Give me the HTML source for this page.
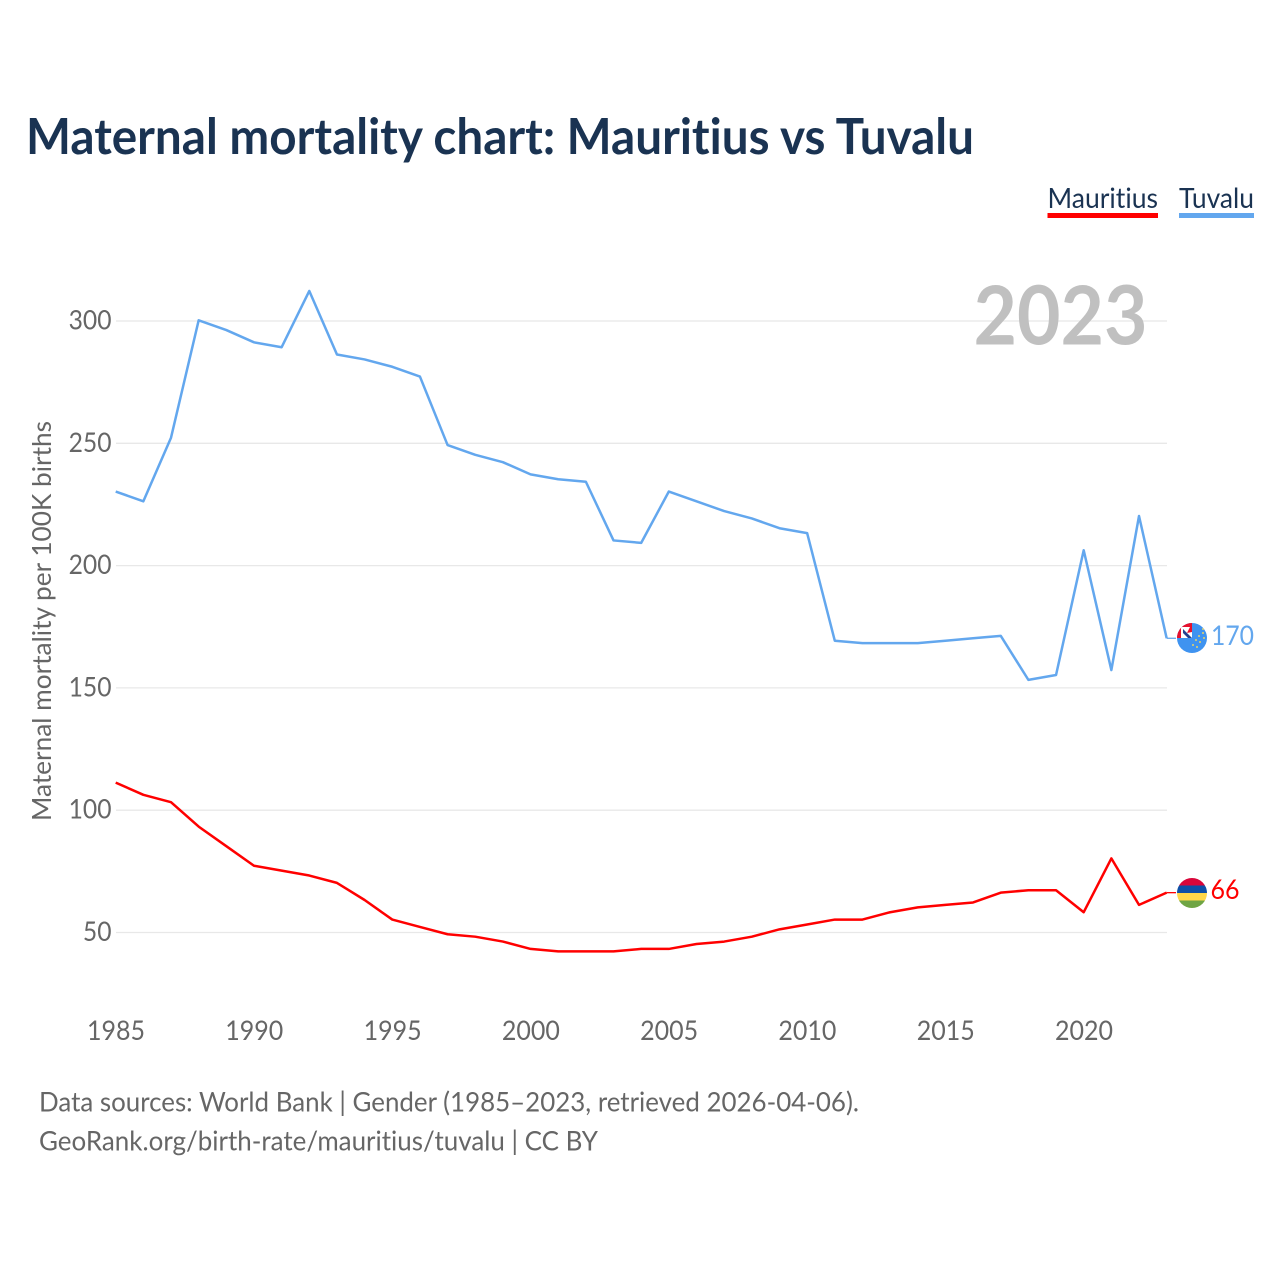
<!DOCTYPE html>
<html lang="en">
<head>
<meta charset="utf-8">
<title>Maternal mortality chart: Mauritius vs Tuvalu</title>
<style>
html,body{margin:0;padding:0;background:#fff;}
svg{display:block;}
text{font-family:"Lato","Carlito","Liberation Sans",sans-serif;font-variant-ligatures:none;font-feature-settings:"liga" 0,"clig" 0;}
</style>
</head>
<body>
<svg id="chart" xmlns="http://www.w3.org/2000/svg" width="1280" height="1280" viewBox="0 0 1280 1280">
  <defs>
    <clipPath id="clip-mu"><circle cx="1192" cy="893" r="15"/></clipPath>
    <clipPath id="clip-tv"><circle cx="1192" cy="638" r="15"/></clipPath>
  </defs>
  <rect width="1280" height="1280" fill="#fff"/>
  <text x="26" y="154" font-size="50" font-weight="700" fill="#1a3352" textLength="948" lengthAdjust="spacingAndGlyphs">Maternal mortality chart: Mauritius vs Tuvalu</text>

  <g id="grid"></g>

  <text x="973.5" y="344.5" font-size="81" font-weight="700" fill="#bdbdbd" fill-opacity="0.95" textLength="174" lengthAdjust="spacingAndGlyphs">2023</text>

  <text transform="translate(51 821) rotate(-90)" font-size="26" fill="#666" textLength="400" lengthAdjust="spacingAndGlyphs">Maternal mortality per 100K births</text>

  <g id="y-ticks"></g>
  <g id="x-ticks"></g>
  <g id="series"></g>

  <g>
    <text x="1047.5" y="208" font-size="28" fill="#1a3352" textLength="110.5" lengthAdjust="spacingAndGlyphs">Mauritius</text>
    <rect x="1047.5" y="213" width="110.5" height="5" fill="#ff0000"/>
  </g>
  <g>
    <text x="1179" y="208" font-size="28" fill="#1a3352" textLength="75" lengthAdjust="spacingAndGlyphs">Tuvalu</text>
    <rect x="1179" y="213" width="75" height="5" fill="#63a7ee"/>
  </g>

  <g clip-path="url(#clip-tv)">
    <rect x="1177" y="623" width="30" height="30" fill="#3f93f0"/>
    <rect x="1177" y="623" width="15" height="15" fill="#e8112d"/>
    <rect x="1181" y="627" width="11" height="11" fill="#fff"/>
    <path d="M1183 629l9 9h-4l-5-5z" fill="#24408f"/>
    <path d="M1192 627v5l-5 1 3-6z" fill="#e8112d"/>
    <g fill="#e6d36a">
      <circle cx="1199" cy="636" r="1"/><circle cx="1203" cy="633" r="1"/><circle cx="1196" cy="640" r="1"/>
      <circle cx="1200" cy="642" r="1"/><circle cx="1204" cy="638" r="1"/><circle cx="1193" cy="645" r="1"/>
      <circle cx="1197" cy="647" r="1"/><circle cx="1203" cy="629" r="1"/>
    </g>
  </g>
  <g clip-path="url(#clip-mu)">
    <rect x="1177" y="878" width="30" height="7.5" fill="#d9063a"/>
    <rect x="1177" y="885.5" width="30" height="7.5" fill="#0d4fa8"/>
    <rect x="1177" y="893" width="30" height="7.5" fill="#ffd74a"/>
    <rect x="1177" y="900.5" width="30" height="7.5" fill="#6fa544"/>
  </g>

  <text x="1211" y="645" font-size="27" fill="#63a7ee" textLength="43" lengthAdjust="spacingAndGlyphs">170</text>
  <text x="1210.5" y="899" font-size="27" fill="#ff0000" textLength="29" lengthAdjust="spacingAndGlyphs">66</text>

  <text x="39" y="1111.5" font-size="27" fill="#666" textLength="820" lengthAdjust="spacingAndGlyphs">Data sources: World Bank | Gender (1985–2023, retrieved 2026-04-06).</text>
  <text x="39" y="1150.5" font-size="27" fill="#666" textLength="559" lengthAdjust="spacingAndGlyphs">GeoRank.org/birth-rate/mauritius/tuvalu | CC BY</text>
</svg>
<script>
const years = [1985,1986,1987,1988,1989,1990,1991,1992,1993,1994,1995,1996,1997,1998,1999,2000,2001,2002,2003,2004,2005,2006,2007,2008,2009,2010,2011,2012,2013,2014,2015,2016,2017,2018,2019,2020,2021,2022,2023];
const tuvaluValues = [230,226,252,300,296,291,289,312,286,284,281,277,249,245,242,237,235,234,210,209,230,226,222,219,215,213,169,168,168,168,169,170,171,153,155,206,157,220,170];
const mauritiusValues = [111,106,103,93,85,77,75,73,70,63,55,52,49,48,46,43,42,42,42,43,43,45,46,48,51,53,55,55,58,60,61,62,66,67,67,58,80,61,66];
const yTickValues = [50,100,150,200,250,300];
const xTickValues = [1985,1990,1995,2000,2005,2010,2015,2020];

const NS = 'http://www.w3.org/2000/svg';
function xScale(year){ return 115.7 + (year - 1985) * (1083.7 - 115.7) / 35; }
function yScale(value){ return 931.8 - (value - 50) * (931.8 - 320.3) / 250; }
function make(tag, attrs, parent){
  const el = document.createElementNS(NS, tag);
  for (const k in attrs) el.setAttribute(k, attrs[k]);
  parent.appendChild(el);
  return el;
}

const gridGroup = document.getElementById('grid');
const yTickGroup = document.getElementById('y-ticks');
const xTickGroup = document.getElementById('x-ticks');
const seriesGroup = document.getElementById('series');

yTickValues.forEach(function(v){
  const gy = yScale(v) + 0.7;
  const line = make('line', {x1:116, x2:1167, y1:gy, y2:gy, stroke:'#e8e8e8', 'stroke-width':1.3}, gridGroup);
  
  
  const label = make('text', {x:111.5, y:gy+8.5, 'text-anchor':'end', 'font-size':27, fill:'#666', textLength:String(v).length*14.3, lengthAdjust:'spacingAndGlyphs'}, yTickGroup);
  
  
  label.textContent = v;
});

xTickValues.forEach(function(v){
  const label = make('text', {x:xScale(v)+0.3, y:1040, 'text-anchor':'middle', 'font-size':27, fill:'#666', textLength:58, lengthAdjust:'spacingAndGlyphs'}, xTickGroup);
  
  
  label.textContent = v;
});

function pathFor(values){
  return values.map(function(v, i){
    return (i ? 'L' : 'M') + xScale(years[i]).toFixed(2) + ' ' + yScale(v).toFixed(2);
  }).join(' ');
}

const tuvaluLine = make('path', {d:pathFor(tuvaluValues), fill:'none', stroke:'#63a7ee', 'stroke-width':2.5, 'stroke-linejoin':'round'}, seriesGroup);



const mauritiusLine = make('path', {d:pathFor(mauritiusValues), fill:'none', stroke:'#ff0000', 'stroke-width':2.5, 'stroke-linejoin':'round'}, seriesGroup);



const lastIndex = years.length - 1;
const tuvaluLeader = make('line', {x1:xScale(years[lastIndex]), x2:1176, y1:yScale(tuvaluValues[lastIndex]), y2:yScale(tuvaluValues[lastIndex]), stroke:'#63a7ee', 'stroke-width':1.3}, seriesGroup);



const mauritiusLeader = make('line', {x1:xScale(years[lastIndex]), x2:1176, y1:yScale(mauritiusValues[lastIndex]), y2:yScale(mauritiusValues[lastIndex]), stroke:'#ff0000', 'stroke-width':1.3}, seriesGroup);


</script>
</body>
</html>
